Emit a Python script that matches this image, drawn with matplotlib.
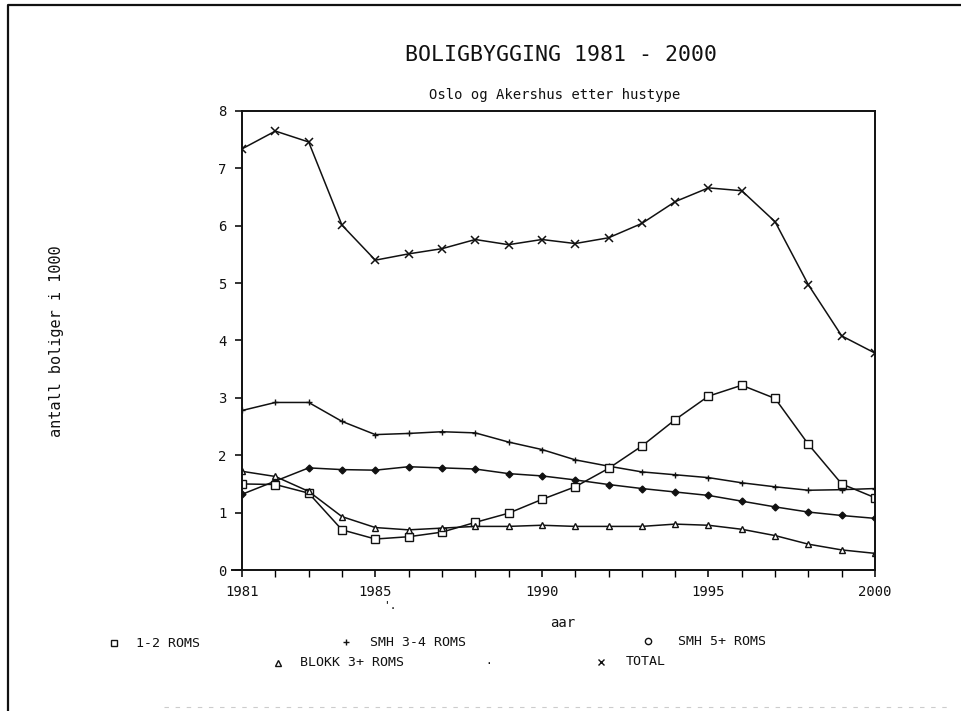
import matplotlib
matplotlib.use("Agg")
import matplotlib.pyplot as plt
from matplotlib.lines import Line2D

years = list(range(1981, 2001))

roms_1_2 = [1.50, 1.49, 1.34, 0.70, 0.54, 0.58, 0.66, 0.83, 0.99, 1.23,
            1.45, 1.77, 2.16, 2.62, 3.03, 3.22, 2.99, 2.19, 1.50, 1.26]
smh_3_4 = [2.78, 2.92, 2.92, 2.59, 2.36, 2.38, 2.41, 2.39, 2.23, 2.10,
           1.92, 1.81, 1.71, 1.66, 1.61, 1.52, 1.45, 1.39, 1.40, 1.42]
smh_5 = [1.32, 1.55, 1.78, 1.75, 1.74, 1.80, 1.78, 1.76, 1.68, 1.64,
         1.57, 1.49, 1.42, 1.36, 1.30, 1.20, 1.10, 1.01, 0.95, 0.90]
blokk_3 = [1.72, 1.63, 1.37, 0.93, 0.74, 0.70, 0.73, 0.76, 0.76, 0.78,
           0.76, 0.76, 0.76, 0.80, 0.78, 0.71, 0.60, 0.45, 0.35, 0.29]
total = [7.34, 7.65, 7.46, 6.01, 5.40, 5.51, 5.60, 5.76, 5.67, 5.76,
         5.69, 5.79, 6.04, 6.42, 6.66, 6.61, 6.07, 4.97, 4.08, 3.78]

x_labels = [1981, 1985, 1990, 1995, 2000]
y_ticks = [0, 1, 2, 3, 4, 5, 6, 7, 8]

plt.rcParams['font.family'] = ['DejaVu Sans Mono', 'DejaVu Sans']

fig = plt.figure(figsize=(9.62, 7.11), dpi=100)
ax = fig.add_axes([0.2516, 0.1983, 0.6580, 0.6456])

ink = "#111111"
line_kw = dict(color=ink, linewidth=1.1)

ax.plot(years, total, marker="x", markersize=5.5, mew=1.1, **line_kw)
ax.plot(years, smh_3_4, marker="+", markersize=5, mew=1.0, **line_kw)
ax.plot(years, smh_5, marker="D", markersize=3.5, mfc=ink, mec=ink, **line_kw)
ax.plot(years, roms_1_2, marker="s", markersize=5.5, mfc="white", mec=ink, mew=1.0, **line_kw)
ax.plot(years, blokk_3, marker="^", markersize=4.5, mfc="white", mec=ink, mew=1.0, **line_kw)

ax.set_xlim(1981, 2000)
ax.set_ylim(0, 8)
ax.set_xticks(x_labels)
ax.set_xticks(years, minor=True)
ax.set_yticks(y_ticks)
ax.tick_params(axis="both", which="major", direction="out", length=5, width=1.2,
               labelsize=10, colors=ink, pad=6)
ax.tick_params(axis="x", which="minor", direction="out", length=5, width=1.0)
for sp in ax.spines.values():
    sp.set_linewidth(1.4)
    sp.set_color(ink)

# base line runs a little past the left axis
fig.add_artist(Line2D([0.241, 0.2516], [0.1983, 0.1983], color=ink, linewidth=1.4,
                      transform=fig.transFigure))

fig.text(0.583, 0.922, "BOLIGBYGGING 1981 - 2000", ha="center", va="center",
         fontsize=15.5, color=ink)
fig.text(0.577, 0.867, "Oslo og Akershus etter hustype", ha="center", va="center",
         fontsize=10, color=ink)
fig.text(0.059, 0.52, "antall boliger i 1000", rotation=90, ha="center", va="center",
         fontsize=11, color=ink)
fig.text(0.585, 0.124, "aar", ha="center", va="center", fontsize=10, color=ink)
fig.text(0.405, 0.147, "'.", ha="center", va="center", fontsize=8, color=ink)

# legend rows drawn as marker + text pairs
legend_rows = [
    (0.118, 0.095, "s", "1-2 ROMS", 0.023),
    (0.360, 0.097, "+", "SMH 3-4 ROMS", 0.025),
    (0.674, 0.098, "o", "SMH 5+ ROMS", 0.031),
    (0.289, 0.068, "^", "BLOKK 3+ ROMS", 0.023),
    (0.625, 0.069, "x", "TOTAL", 0.025),
]
for lx, ly, mk, txt, gap in legend_rows:
    fig.add_artist(Line2D([lx], [ly], marker=mk, markersize=4.5, mfc="white",
                          mec=ink, mew=1.0, linestyle="none",
                          transform=fig.transFigure))
    fig.text(lx + gap, ly, txt, ha="left", va="center", fontsize=9.5, color=ink)
fig.text(0.508, 0.070, ".", ha="center", va="center", fontsize=8, color=ink)

# page frame
fig.add_artist(Line2D([0.008, 0.008, 1.0], [0.0, 0.993, 0.993], color=ink,
                      linewidth=1.6, transform=fig.transFigure))
fig.add_artist(Line2D([0.17, 0.99], [0.006, 0.006], color="#cccccc", linewidth=0.8,
                      linestyle=(0, (4, 6)), transform=fig.transFigure))

fig.savefig("out.png", dpi=100)
